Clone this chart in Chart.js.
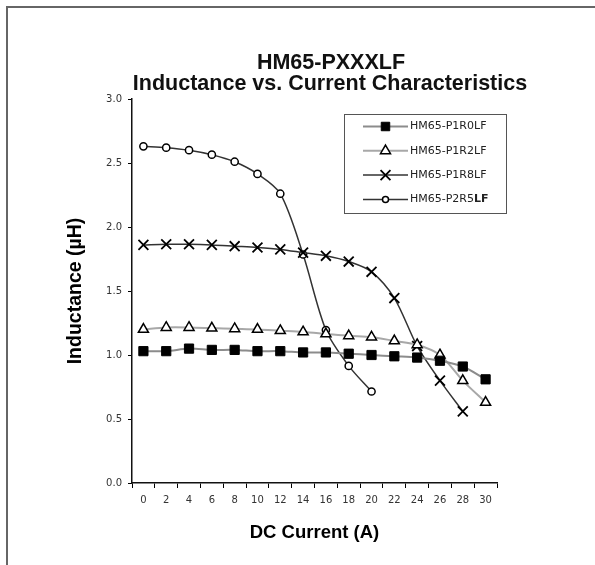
<!DOCTYPE html>
<html>
<head>
<meta charset="utf-8">
<script src="https://cdn.jsdelivr.net/npm/chart.js@4/dist/chart.umd.min.js"></script>
<style>
  body { margin: 0; background: #fff; }
  #wrap { position: relative; width: 595px; height: 565px; overflow: hidden; }
  #frame { position: absolute; left: 6px; top: 6px; width: 700px; height: 700px;
           border-left: 2px solid #666; border-top: 2px solid #666; }
  canvas { position: absolute; left: 0; top: 0; }
</style>
</head>
<body>
<div id="wrap">
  <canvas id="myChart" width="595" height="565"></canvas>
  <div id="frame"></div>
</div>
<script>
// datos (corriente DC en A, inductancia en uH)
const corrientes = ['0', '2', '4', '6', '8', '10', '12', '14', '16', '18', '20', '22', '24', '26', '28', '30'];
const nombres = ['HM65-P1R0LF', 'HM65-P1R2LF', 'HM65-P1R8LF', 'HM65-P2R5LF'];
const p1r0 = [1.03, 1.03, 1.05, 1.04, 1.04, 1.03, 1.03, 1.02, 1.02, 1.01, 1.00, 0.99, 0.98, 0.955, 0.91, 0.81];
const p1r2 = [1.20, 1.215, 1.215, 1.21, 1.205, 1.20, 1.19, 1.18, 1.165, 1.15, 1.14, 1.11, 1.08, 1.00, 0.80, 0.63];
const p1r8 = [1.86, 1.865, 1.865, 1.86, 1.85, 1.84, 1.825, 1.80, 1.775, 1.73, 1.65, 1.445, 1.07, 0.80, 0.56, null];
const p2r5 = [2.63, 2.62, 2.60, 2.565, 2.51, 2.415, 2.26, 1.785, 1.195, 0.915, 0.715, null, null, null, null, null];
const titulo = ['HM65-PXXXLF', 'Inductance vs. Current Characteristics'];

const ctx = document.getElementById('myChart').getContext('2d');

// titulo en dos lineas
const tituloPlugin = {
  id: 'titulo',
  afterDraw(chart) {
    const c = chart.ctx;
    c.save();
    c.fillStyle = '#111';
    c.font = 'bold 21.5px "Liberation Sans", Arial, sans-serif';
    c.textAlign = 'center';
    c.textBaseline = 'middle';
    c.fillText(titulo[0], 331, 63);
    c.fillText(titulo[1], 330, 84);
    c.restore();
  }
};

// leyenda dentro del area del grafico
const leyendaPlugin = {
  id: 'leyenda',
  afterDraw(chart) {
    const c = chart.ctx;
    const x0 = 344, y0 = 114, w = 162, h = 99;
    c.save();
    c.fillStyle = '#fff';
    c.fillRect(x0, y0, w, h);
    c.strokeStyle = '#555';
    c.lineWidth = 1;
    c.strokeRect(x0 + 0.5, y0 + 0.5, w, h);
    chart.data.datasets.forEach((ds, i) => {
      const y = 126.5 + i * 24.3;
      c.strokeStyle = ds.borderColor;
      c.lineWidth = ds.borderWidth;
      c.beginPath();
      c.moveTo(363, y);
      c.lineTo(408, y);
      c.stroke();
      const r = ds.legendRadius || ds.pointRadius;
      c.fillStyle = ds.pointBackgroundColor;
      c.strokeStyle = ds.pointBorderColor;
      c.lineWidth = ds.pointBorderWidth;
      c.beginPath();
      Chart.helpers.drawPoint(c, { pointStyle: ds.pointStyle, radius: r, borderWidth: ds.pointBorderWidth, rotation: 0 }, 385.5, y);
      c.fillStyle = '#222';
      c.textAlign = 'left';
      c.textBaseline = 'middle';
      let txt = ds.label;
      const cola = ds.boldTail || '';
      if (cola) txt = txt.slice(0, txt.length - cola.length);
      c.font = '11px "DejaVu Sans", sans-serif';
      c.fillText(txt, 410, y);
      if (cola) {
        const tw = c.measureText(txt).width;
        c.font = 'bold 11px "DejaVu Sans", sans-serif';
        c.fillText(cola, 410 + tw, y);
      }
    });
    c.restore();
  }
};

function serie(label, data, color, width, style, radius, fill, borderW) {
  return {
    label: label,
    data: data,
    borderColor: color,
    borderWidth: width,
    pointStyle: style,
    pointRadius: radius,
    pointBackgroundColor: fill,
    pointBorderColor: '#000',
    pointBorderWidth: borderW,
    fill: false,
    tension: 0.3
  };
}

const datasets = [
  serie(nombres[0], p1r0, '#8c8c8c', 2, 'rect', 6.5, '#000', 1),
  serie(nombres[1], p1r2, '#a8a8a8', 2, 'triangle', 5.8, '#fff', 1.5),
  serie(nombres[2], p1r8, '#333', 1.5, 'crossRot', 7, '#000', 1.8),
  serie(nombres[3], p2r5, '#333', 1.5, 'circle', 3.6, '#fff', 1.5)
];
datasets[3].boldTail = 'LF';
datasets[3].legendRadius = 3;
datasets[0].legendRadius = 6;

const chart = new Chart(ctx, {
  type: 'line',
  data: { labels: corrientes, datasets: datasets },
  options: {
    responsive: false,
    animation: false,
    layout: { padding: { left: 0, top: 99, right: 98, bottom: 0 } },
    plugins: {
      legend: { display: false },
      tooltip: { enabled: false },
      title: { display: false }
    },
    scales: {
      x: {
        offset: true,
        grid: { offset: true, drawOnChartArea: false, drawTicks: true, tickLength: 5, color: '#000' },
        border: { color: '#111', width: 1.5 },
        ticks: { color: '#333', font: { family: '"DejaVu Sans", sans-serif', size: 10 }, padding: 6, maxRotation: 0, autoSkip: false },
        title: { display: true, text: 'DC Current (A)', color: '#000',
                 font: { family: '"Liberation Sans", Arial, sans-serif', size: 18.5, weight: 'bold' },
                 padding: { top: 0, bottom: 21 } },
        afterFit(scale) { scale.height = 82; }
      },
      y: {
        min: 0,
        max: 3,
        grid: { drawOnChartArea: false, drawTicks: true, tickLength: 4, color: '#000' },
        border: { color: '#111', width: 1.5 },
        ticks: { stepSize: 0.5, color: '#333', font: { family: '"DejaVu Sans", sans-serif', size: 10 }, padding: 6,
                 callback: v => v.toFixed(1) },
        title: { display: true, text: 'Inductance (µH)', color: '#000',
                 font: { family: '"Liberation Sans", Arial, sans-serif', size: 19.5, weight: 'bold' },
                 padding: { top: 64, bottom: 0 } },
        afterFit(scale) { scale.width = 132; }
      }
    }
  },
  plugins: [tituloPlugin, leyendaPlugin]
});
</script>
</body>
</html>
